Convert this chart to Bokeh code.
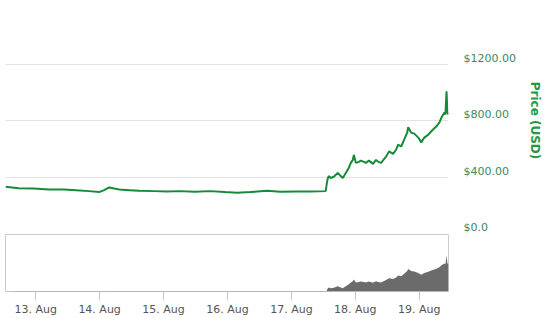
import pandas as pd
from bokeh.plotting import figure
from bokeh.layouts import column
from bokeh.models import (LinearAxis, Range1d, FixedTicker, DatetimeTickFormatter,
                          ColumnDataSource)
from bokeh.embed import file_html
from bokeh.resources import INLINE

# ---- data (Bitcoin Cash, Aug 2017) ----
times = [
    "2017-08-12 12:40", "2017-08-12 17:34", "2017-08-12 23:15", "2017-08-13 04:55",
    "2017-08-13 10:35", "2017-08-13 15:07", "2017-08-13 20:02", "2017-08-13 23:49",
    "2017-08-14 01:42", "2017-08-14 03:35", "2017-08-14 05:29", "2017-08-14 07:22",
    "2017-08-14 11:09", "2017-08-14 14:56", "2017-08-14 20:36", "2017-08-15 01:08",
    "2017-08-15 06:03", "2017-08-15 11:43", "2017-08-15 17:23", "2017-08-15 23:04",
    "2017-08-16 03:35", "2017-08-16 08:30", "2017-08-16 14:56", "2017-08-16 19:50",
    "2017-08-17 01:31", "2017-08-17 07:11", "2017-08-17 12:51", "2017-08-17 13:30",
    "2017-08-17 13:59", "2017-08-17 14:45", "2017-08-17 15:53", "2017-08-17 17:24",
    "2017-08-17 18:31", "2017-08-17 19:17", "2017-08-17 20:25", "2017-08-17 21:33",
    "2017-08-17 22:18", "2017-08-17 23:03", "2017-08-17 23:26", "2017-08-18 00:11",
    "2017-08-18 01:19", "2017-08-18 02:05", "2017-08-18 03:13", "2017-08-18 03:58",
    "2017-08-18 05:06", "2017-08-18 06:37", "2017-08-18 07:45", "2017-08-18 08:30",
    "2017-08-18 09:38", "2017-08-18 11:32", "2017-08-18 12:40", "2017-08-18 14:10",
    "2017-08-18 15:18", "2017-08-18 16:04", "2017-08-18 17:12", "2017-08-18 18:20",
    "2017-08-18 19:28", "2017-08-18 19:50", "2017-08-18 20:59", "2017-08-18 22:07",
    "2017-08-18 23:37", "2017-08-19 00:45", "2017-08-19 01:53", "2017-08-19 03:24",
    "2017-08-19 04:32", "2017-08-19 06:26", "2017-08-19 07:34", "2017-08-19 08:19",
    "2017-08-19 09:27", "2017-08-19 09:50", "2017-08-19 10:13", "2017-08-19 10:35",
    "2017-08-19 10:58",
]
prices = [
    331, 321, 318, 312, 311, 307, 300, 293,
    307, 326, 318, 312, 307, 302, 300, 298,
    300, 296, 300, 293, 288, 293, 302, 296,
    298, 298, 300, 379, 407, 393, 402, 429,
    407, 393, 429, 464, 500, 521, 557, 500,
    507, 516, 507, 500, 516, 493, 521, 509,
    500, 545, 581, 564, 593, 629, 616, 664,
    714, 752, 714, 707, 679, 645, 679, 700,
    724, 759, 786, 821, 857, 843, 1007, 857,
    843,
]
price_ticks = [0, 400, 800, 1200, 1600]
price_labels = {0: "$0.0", 400: "$400.00", 800: "$800.00", 1200: "$1200.00", 1600: ""}
day_ticks = ["2017-08-13", "2017-08-14", "2017-08-15", "2017-08-16",
             "2017-08-17", "2017-08-18", "2017-08-19"]

t = pd.to_datetime(times)
src = ColumnDataSource(data=dict(t=t, price=prices))
x_start = t[0]
x_end = t[-1]
FONT = "DejaVu Sans"

# ---- main chart ----
p = figure(width=550, height=234, x_axis_type="datetime", output_backend="svg",
           toolbar_location=None, x_range=Range1d(x_start, x_end),
           y_range=Range1d(0, 1600),
           min_border_left=5, min_border_right=102, min_border_top=7, min_border_bottom=1)
p.outline_line_color = None
p.xaxis.visible = False
p.yaxis.visible = False
p.xgrid.visible = False
p.ygrid.ticker = FixedTicker(ticks=price_ticks)
p.ygrid.grid_line_color = "#e3e3e3"
p.ygrid.grid_line_width = 1
p.line("t", "price", source=src, line_color="#178a3a", line_width=2)

# labelled axis, shifted so labels sit just above their grid lines
p.extra_y_ranges = {"lab": Range1d(-42, 1600 - 42)}
ax = LinearAxis(y_range_name="lab", ticker=FixedTicker(ticks=price_ticks[:-1]),
                major_label_overrides={k: v for k, v in price_labels.items() if v})
ax.axis_line_color = None
ax.major_tick_line_color = None
ax.minor_tick_line_color = None
ax.major_tick_out = 0
ax.major_tick_in = 0
ax.major_label_standoff = 15
ax.major_label_text_font = FONT
ax.major_label_text_font_size = "11px"
ax.major_label_text_color = "#3a8a60"
ax.axis_label = "Price (USD)"
ax.axis_label_text_font = FONT
ax.axis_label_text_font_size = "12px"
ax.axis_label_text_font_style = "bold"
ax.axis_label_text_color = "#1f9a4a"
ax.axis_label_standoff = 9
p.add_layout(ax, "right")

# ---- navigator ----
n = figure(width=550, height=84, x_axis_type="datetime", output_backend="svg",
           toolbar_location=None, x_range=p.x_range, y_range=Range1d(330, 1400),
           min_border_left=4, min_border_right=102, min_border_top=0, min_border_bottom=0)
n.outline_line_color = "#cccccc"
n.outline_line_width = 1
n.grid.visible = False
n.yaxis.visible = False
n.varea(x="t", y1=330, y2="price", source=src, fill_color="#6b6b6b")
n.xaxis.ticker = FixedTicker(ticks=[pd.Timestamp(d).value / 1e6 for d in day_ticks])
n.xaxis.formatter = DatetimeTickFormatter(days="%d. %b", months="%d. %b",
                                          hours="%d. %b")
n.xaxis.axis_line_color = None
n.xaxis.major_tick_line_color = "#c8c8c8"
n.xaxis.major_tick_out = 9
n.xaxis.major_tick_in = 0
n.xaxis.minor_tick_line_color = None
n.xaxis.major_label_standoff = 2
n.xaxis.major_label_text_font = FONT
n.xaxis.major_label_text_font_size = "11px"
n.xaxis.major_label_text_color = "#555555"

layout = column(p, n, spacing=0)
open("out.html", "w").write(file_html(layout, INLINE))
